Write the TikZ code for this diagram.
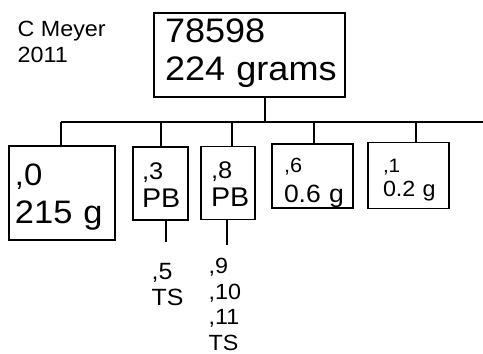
\documentclass[tikz,border=0pt]{standalone}
\usepackage{fontspec}
\setmainfont{Liberation Sans}[FakeStretch=1.06]
\newcommand{\firstline}[2]{{\fontsize{#1}{#1}\selectfont #2}}
\begin{document}
\begin{tikzpicture}[x=1pt,y=-1pt,line width=1.2pt,
  box/.style={draw,align=left,inner ysep=0pt},
  note/.style={anchor=north west,inner sep=0pt,align=left},
  hugetext/.style={font=\fontsize{34}{38}\selectfont},
  bigtext/.style={font=\fontsize{27}{28}\selectfont},
  smalltext/.style={font=\fontsize{23.5}{26}\selectfont}]
\useasboundingbox (0,0) rectangle (483,354);

\node[note,font=\fontsize{22}{26}\selectfont] (author) at (17,21) {C Meyer\\2011};
\node[box,hugetext,text height=24pt,text depth=50pt,inner xsep=11pt,text width=169pt,minimum height=84pt] (top) at (249.5,55) {78598\\224~grams};

\node[box,font=\fontsize{32.5}{38}\selectfont,text height=22pt,text depth=38pt,inner xsep=6pt,text width=94pt,minimum height=94pt] (box0) at (62,193) {\firstline{31}{,0}\\215~g};
\node[box,bigtext,text height=17pt,text depth=26pt,inner xsep=9pt,text width=37pt,minimum height=73pt] (box3) at (160.5,183.5) {\firstline{24}{,3}\\PB};
\node[box,bigtext,text height=17pt,text depth=27pt,inner xsep=10pt,text width=34pt,minimum height=73pt] (box8) at (228,183) {\firstline{24}{,8}\\PB};
\node[box,font=\fontsize{25}{30}\selectfont,text height=14.7pt,text depth=22.7pt,inner xsep=12pt,text width=57pt,minimum height=64pt] (box6) at (312.5,176) {\firstline{20.5}{,6}\\0.6~g};
\node[box,font=\fontsize{22}{24}\selectfont,text height=14pt,text depth=21pt,inner xsep=15pt,text width=51pt,minimum height=66pt] (box1) at (408.5,175.5) {\firstline{19.5}{,1}\\0.2~g};

\coordinate (bus) at (265,122);
\coordinate (busleft) at (61,122);
\coordinate (busright) at (483,122);
\draw (top.south -| bus) -- (bus);
\draw (busleft) -- (busright);
\foreach \n/\x in {box0/61,box3/161,box8/232,box6/314,box1/416}
  \draw (bus -| \x,0) -- (\n.north -| \x,0);

\coordinate (stem3) at (166,242);
\coordinate (stem8) at (227,245);
\draw (box3.south -| stem3) -- (stem3);
\draw (box8.south -| stem8) -- (stem8);

\node[note,smalltext] (ts3) at (151,263) {,5\\TS};
\node[note,font=\fontsize{22}{25.5}\selectfont] (ts8) at (208,258) {,9\\,10\\,11\\TS};
\end{tikzpicture}
\end{document}
